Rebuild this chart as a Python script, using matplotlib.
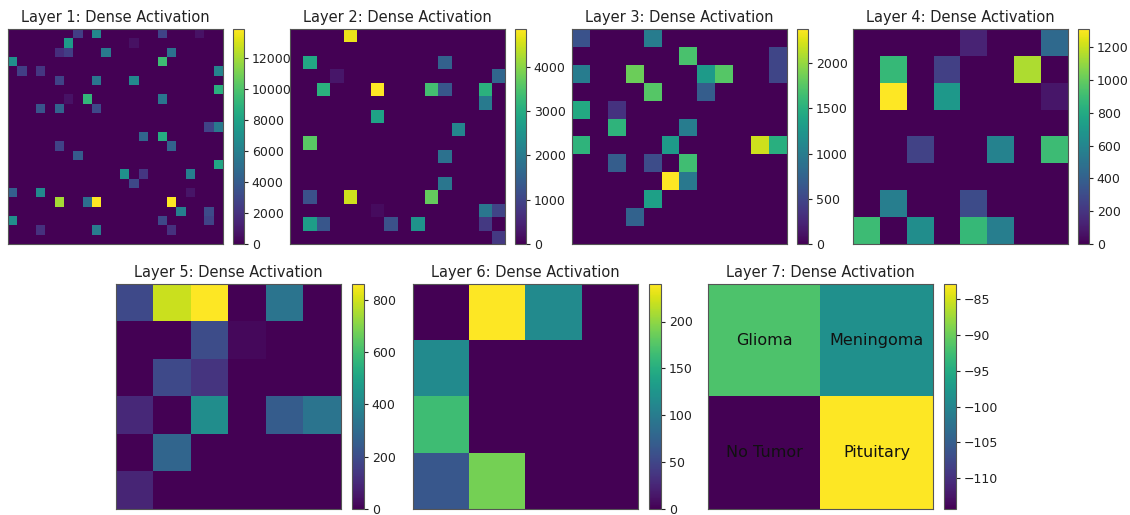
import numpy as np
import matplotlib
matplotlib.use("Agg")
import matplotlib.pyplot as plt
from matplotlib.ticker import MultipleLocator

# sparse activations (row, col, value) for the wide layers, grid side padded up
layer1_side = 23
layer1_cells = [
    (0, 7, 2600), (0, 9, 6500), (0, 16, 2800), (0, 20, 700),
    (1, 6, 7600), (1, 13, 600),
    (2, 5, 1800), (2, 6, 2600), (2, 10, 5600), (2, 17, 5200),
    (3, 0, 7000), (3, 16, 9600),
    (4, 1, 2600), (4, 3, 2200), (4, 22, 6200),
    (5, 5, 2800), (5, 9, 5400), (5, 13, 6500),
    (6, 22, 8800),
    (7, 6, 700), (7, 8, 9200), (7, 16, 5400),
    (8, 3, 3600), (8, 5, 4400), (8, 9, 3000),
    (10, 21, 2800), (10, 22, 5600),
    (11, 14, 4600), (11, 16, 8600),
    (12, 5, 2800), (12, 17, 4400),
    (13, 7, 4000),
    (14, 22, 8200),
    (15, 12, 7000), (15, 14, 2200), (15, 19, 6000),
    (16, 13, 3000),
    (17, 0, 4200), (17, 3, 6600), (17, 19, 800),
    (18, 5, 12000), (18, 8, 5000), (18, 9, 13900), (18, 17, 13900),
    (19, 18, 6000), (19, 21, 3200),
    (20, 0, 6800), (20, 16, 3000), (20, 21, 2800),
    (21, 3, 2000), (21, 9, 5800), (21, 17, 2000),
]

layer2_side = 16
layer2_cells = [
    (0, 4, 4700),
    (2, 1, 2900), (2, 11, 1500),
    (3, 3, 300), (3, 15, 1600),
    (4, 2, 3100), (4, 6, 4850), (4, 10, 3400), (4, 11, 1300), (4, 14, 3100),
    (5, 14, 2000),
    (6, 6, 2800),
    (7, 12, 2200),
    (8, 1, 3600),
    (9, 11, 1800),
    (11, 11, 1900),
    (12, 1, 1200), (12, 4, 4500), (12, 10, 3700),
    (13, 6, 150), (13, 14, 1900), (13, 15, 1000),
    (14, 1, 2700), (14, 2, 1300), (14, 7, 1200), (14, 9, 2500), (14, 14, 800),
    (15, 15, 800),
]

layer3_side = 12
layer3_cells = [
    (0, 0, 600), (0, 4, 1000),
    (1, 6, 1700), (1, 11, 500),
    (2, 0, 1000), (2, 3, 1850), (2, 7, 1300), (2, 8, 1750), (2, 11, 500),
    (3, 4, 1750), (3, 7, 700),
    (4, 0, 1450), (4, 2, 350),
    (5, 2, 1550), (5, 6, 1000),
    (6, 0, 1550), (6, 5, 1300), (6, 10, 2200), (6, 11, 1500),
    (7, 2, 700), (7, 4, 550), (7, 6, 1650),
    (8, 5, 2380), (8, 6, 950),
    (9, 4, 1350),
    (10, 3, 750),
]

layer4 = [
    [0, 0, 0, 0, 130, 0, 0, 450],
    [0, 880, 0, 250, 0, 0, 1150, 0],
    [0, 1310, 0, 700, 0, 0, 0, 80],
    [0, 0, 0, 0, 0, 0, 0, 0],
    [0, 0, 260, 0, 0, 580, 0, 900],
    [0, 0, 0, 0, 0, 0, 0, 0],
    [0, 560, 0, 0, 300, 0, 0, 0],
    [900, 0, 640, 0, 880, 560, 0, 0],
]

layer5 = [
    [190, 790, 860, 0, 330, 0],
    [0, 0, 200, 20, 0, 0],
    [0, 190, 130, 0, 0, 0],
    [100, 0, 420, 0, 250, 330],
    [0, 280, 0, 0, 0, 0],
    [90, 0, 0, 0, 0, 0],
]

layer6 = [
    [0, 240, 115, 0],
    [115, 0, 0, 0],
    [165, 0, 0, 0],
    [65, 190, 0, 0],
]

layer7 = [
    [-91.7, -98.6],
    [-114.3, -82.9],
]
class_names = [["Glioma", "Meningoma"], ["No Tumor", "Pituitary"]]

# colorbar tick spacing per layer
cbar_steps = [2000, 1000, 500, 200, 200, 50, 5]


def to_grid(side, cells):
    grid = np.zeros((side, side))
    for r, c, v in cells:
        grid[r, c] = v
    return grid


grids = [
    to_grid(layer1_side, layer1_cells),
    to_grid(layer2_side, layer2_cells),
    to_grid(layer3_side, layer3_cells),
    np.array(layer4, dtype=float),
    np.array(layer5, dtype=float),
    np.array(layer6, dtype=float),
    np.array(layer7, dtype=float),
]

W, H = 1130, 515
fig = plt.figure(figsize=(W / 100, H / 100), dpi=100)


def px_axes(left, top, width, height):
    return fig.add_axes([left / W, 1 - (top + height) / H, width / W, height / H])


# pixel boxes: (left, top, size, colorbar gap, colorbar width)
boxes = [
    (8, 29, 215, 10, 11),
    (290, 29, 215, 10, 11),
    (572, 29, 215, 10, 11),
    (853, 29, 215, 10, 11),
    (116, 284, 225, 11, 12),
    (413, 284, 225, 11, 12),
    (708, 284, 225, 11, 12),
]

for i, (grid, (left, top, size, gap, cbw)) in enumerate(zip(grids, boxes)):
    ax = px_axes(left, top, size, size)
    im = ax.imshow(grid, cmap="viridis", aspect="auto", interpolation="nearest")
    ax.set_xticks([])
    ax.set_yticks([])
    for sp in ax.spines.values():
        sp.set_color("#555555")
    ax.set_title(f"Layer {i + 1}: Dense Activation", fontsize=10.5, pad=5,
                 color="#222222")
    cax = px_axes(left + size + gap, top, cbw, size)
    cb = fig.colorbar(im, cax=cax)
    cb.locator = MultipleLocator(cbar_steps[i])
    cb.update_ticks()
    cb.outline.set_edgecolor("#555555")
    cb.ax.tick_params(labelsize=9, length=3, pad=2.5, colors="#222222")
    if i == 6:
        for r in range(2):
            for c in range(2):
                ax.text(c, r, class_names[r][c], ha="center", va="center",
                        fontsize=11.5, color="#111111")

fig.savefig("out.png", dpi=100)
